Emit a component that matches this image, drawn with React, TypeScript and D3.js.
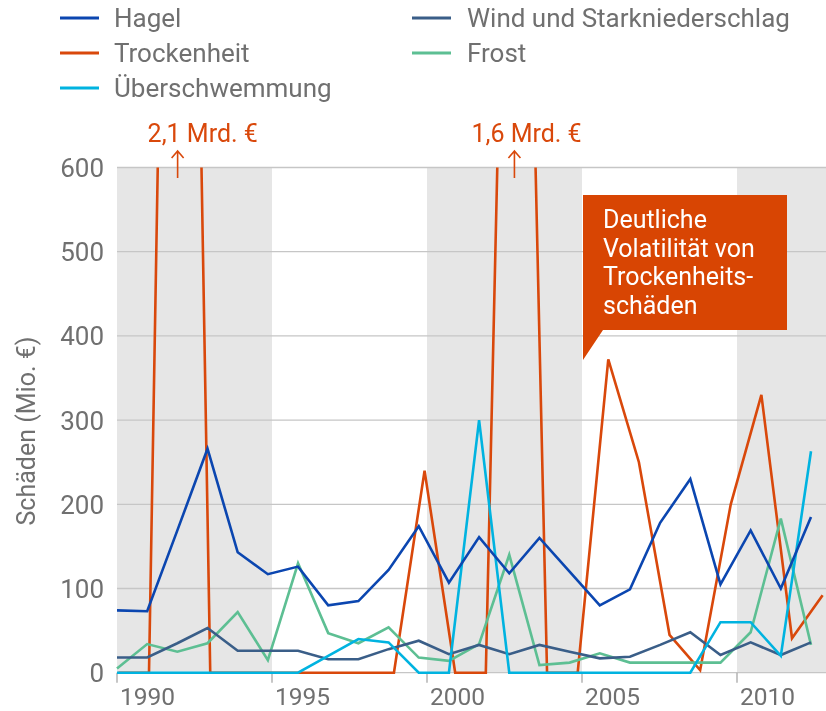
import React from 'react';
import * as d3 from 'd3';

const years = [1990, 1991, 1992, 1993, 1994, 1995, 1996, 1997, 1998, 1999, 2000, 2001, 2002, 2003, 2004, 2005, 2006, 2007, 2008, 2009, 2010, 2011, 2012, 2013];
const hagel = [74, 73, 169, 266, 143, 117, 126, 80, 85, 122, 174, 107, 161, 118, 160, 120, 80, 99, 178, 230, 105, 169, 100, 185];
const trockenheit = [0, 0, 2100, 0, 0, 0, 0, 0, 0, 0, 240, 0, 0, 1600, 0, 0, 372, 250, 45, 3, 200, 330, 41, 92];
const ueberschwemmung = [0, 0, 0, 0, 0, 0, 0, 20, 40, 36, 0, 0, 300, 0, 0, 0, 0, 0, 0, 0, 60, 60, 20, 263];
const wind = [18, 18, 35, 53, 26, 26, 26, 16, 16, 28, 38, 22, 33, 22, 33, 25, 17, 19, 33, 48, 21, 36, 21, 36];
const frost = [5, 34, 25, 35, 72, 15, 130, 47, 35, 54, 18, 14, 34, 140, 9, 12, 23, 12, 12, 12, 12, 48, 183, 33];

const yTicks = [0, 100, 200, 300, 400, 500, 600];
const xTicks = [1990, 1995, 2000, 2005, 2010];
const bands = [[1990, 1995], [2000, 2005], [2010, 2020]];
const peakYears = [1992, 2003];
const peakLabels = ['2,1 Mrd. €', '1,6 Mrd. €'];
const calloutLines = ['Deutliche', 'Volatilität von', 'Trockenheits-', 'schäden'];

const legendCol1 = ['Hagel', 'Trockenheit', 'Überschwemmung'];
const legendCol2 = ['Wind und Starkniederschlag', 'Frost'];

const C = {
  hagel: '#0b46b0',
  trocken: '#d9480b',
  flood: '#00b3e0',
  wind: '#3a5e88',
  frost: '#5dbf93',
  text: '#707070',
  grid: '#c6c6c6',
  band: '#e6e6e6',
};

const W = 826;
const H = 711;
const FONT = 'Roboto, "Liberation Sans", sans-serif';

export default function App() {
  const y = d3.scaleLinear().domain([0, 600]).range([672.7, 167.5]);
  const xAxis = d3.scaleLinear().domain([1990, 2010]).range([117, 737]);
  const xData = d3.scaleLinear().domain([1990, 2013]).range([117, 811]);
  const xDrought = d3.scaleLinear().domain([1991, 2012]).range([149, 792]);

  const lineGen = (xs: d3.ScaleLinear<number, number>, vals: number[]) =>
    d3.line<number>().x((_, i) => xs(years[i])).y((d) => y(d))(vals) || '';

  const series = [
    { key: 'trocken', vals: trockenheit, color: C.trocken, xs: xDrought },
    { key: 'frost', vals: frost, color: C.frost, xs: xData },
    { key: 'wind', vals: wind, color: C.wind, xs: xData },
    { key: 'flood', vals: ueberschwemmung, color: C.flood, xs: xData },
    { key: 'hagel', vals: hagel, color: C.hagel, xs: xData },
  ];

  const col1Colors = [C.hagel, C.trocken, C.flood];
  const col2Colors = [C.wind, C.frost];
  const legendY = [18, 53, 88];

  const boxL = xAxis(2005) + 1;
  const boxT = 195;
  const boxR = 787;
  const boxB = 330;

  return (
    <svg
      width={W}
      height={H}
      style={{ position: 'fixed', left: 0, top: 0, fontFamily: FONT }}
    >
      <defs>
        <clipPath id="plotclip">
          <rect x={0} y={y(600)} width={W} height={H - y(600)} />
        </clipPath>
      </defs>

      {bands.map(([a, b], i) => (
        <rect
          key={i}
          x={xAxis(a)}
          y={y(600)}
          width={Math.min(xAxis(b), W) - xAxis(a)}
          height={y(0) - y(600)}
          fill={C.band}
        />
      ))}

      {yTicks.map((t) => (
        <line key={t} x1={117} x2={W} y1={y(t)} y2={y(t)} stroke={C.grid} strokeWidth={1.3} />
      ))}
      {yTicks.map((t) => (
        <text key={'l' + t} x={104} y={y(t) + 9.5} textAnchor="end" fontSize={26} fill={C.text}>
          {t}
        </text>
      ))}

      {xTicks.map((t) => (
        <g key={t}>
          <line x1={xAxis(t)} x2={xAxis(t)} y1={y(0)} y2={y(0) + 10} stroke="#a8a8a8" strokeWidth={1.3} />
          <text x={xAxis(t) + 3} y={705} fontSize={24.5} fill={C.text}>
            {t}
          </text>
        </g>
      ))}

      <text
        transform={`translate(35,431) rotate(-90)`}
        textAnchor="middle"
        fontSize={25}
        fill={C.text}
      >
        Schäden (Mio. €)
      </text>

      <g clipPath="url(#plotclip)">
        {series.map((s) => (
          <path
            key={s.key}
            d={lineGen(s.xs, s.vals)}
            fill="none"
            stroke={s.color}
            strokeWidth={2.6}
            strokeLinejoin="miter"
          />
        ))}
      </g>

      {peakYears.map((yr, i) => {
        const px = xDrought(yr) - 2;
        const offs = [-30, -43];
        return (
          <g key={yr}>
            <text x={px + offs[i]} y={142} fontSize={25} fill={C.trocken}>
              {peakLabels[i]}
            </text>
            <path
              d={`M${px},178 L${px},151 M${px - 6},158 L${px},151 L${px + 6},158`}
              fill="none"
              stroke={C.trocken}
              strokeWidth={1.6}
            />
          </g>
        );
      })}

      <path
        d={`M${boxL},${boxT} L${boxR},${boxT} L${boxR},${boxB} L${boxL + 20},${boxB} L${boxL},${boxB + 30} Z`}
        fill="#d84503"
      />
      {calloutLines.map((l, i) => (
        <text key={i} x={boxL + 20} y={228 + i * 28.5} fontSize={25} fill="#ffffff">
          {l}
        </text>
      ))}

      {legendCol1.map((l, i) => (
        <g key={l}>
          <line x1={60} x2={99} y1={legendY[i]} y2={legendY[i]} stroke={col1Colors[i]} strokeWidth={3} />
          <text x={114} y={legendY[i] + 9} fontSize={26} fill={C.text}>
            {l}
          </text>
        </g>
      ))}
      {legendCol2.map((l, i) => (
        <g key={l}>
          <line x1={412} x2={451} y1={legendY[i]} y2={legendY[i]} stroke={col2Colors[i]} strokeWidth={3} />
          <text x={467} y={legendY[i] + 9} fontSize={26} fill={C.text}>
            {l}
          </text>
        </g>
      ))}
    </svg>
  );
}
